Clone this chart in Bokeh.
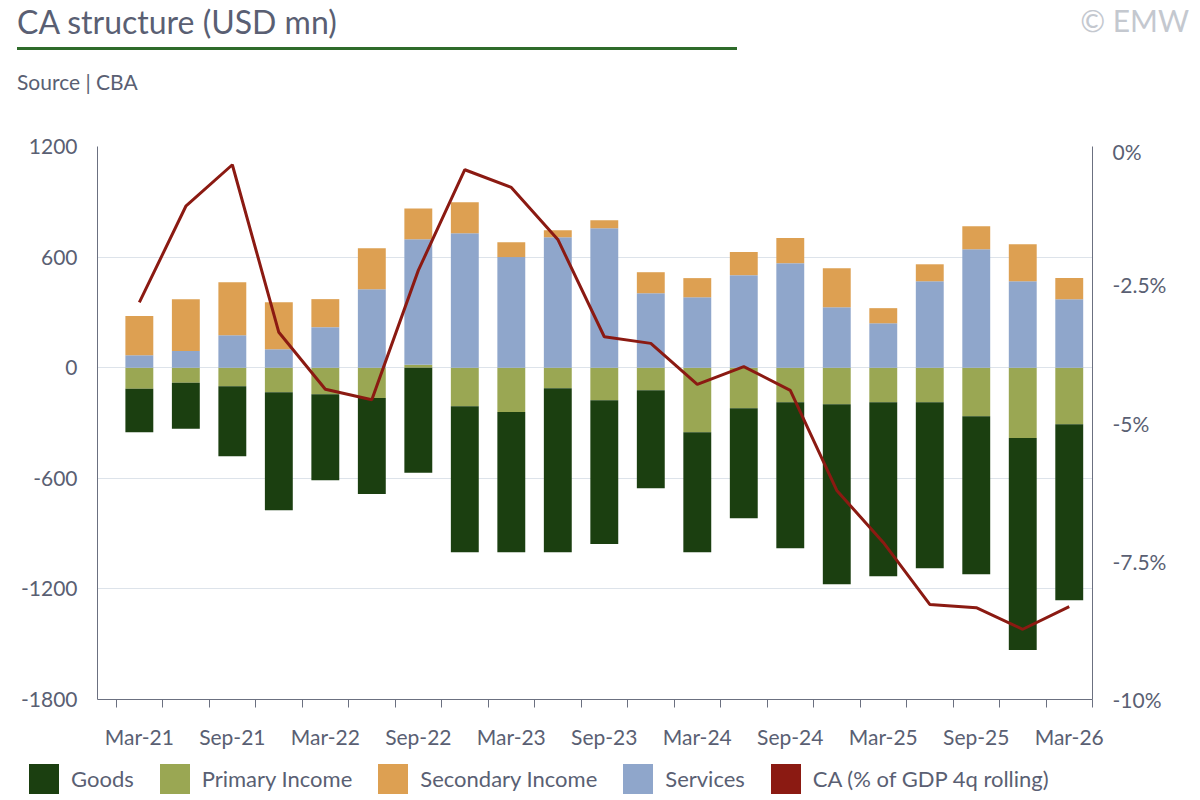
import numpy as np
from bokeh.plotting import figure
from bokeh.models import (Range1d, LinearAxis, FixedTicker, ColumnDataSource, Div)
from bokeh.layouts import column
from bokeh.embed import file_html
from bokeh.resources import INLINE

quarters = ["Mar-21","Jun-21","Sep-21","Dec-21","Mar-22","Jun-22","Sep-22","Dec-22","Mar-23","Jun-23",
            "Sep-23","Dec-23","Mar-24","Jun-24","Sep-24","Dec-24","Mar-25","Jun-25","Sep-25","Dec-25","Mar-26"]
goods = [-236,-250,-380,-640,-467,-520,-570,-792,-760,-890,-781,-532,-651,-597,-792,-977,-944,-901,-857,-1150,-955]
primary = [-114,-81,-100,-133,-144,-165,16,-209,-241,-111,-176,-122,-350,-220,-187,-198,-187,-187,-263,-382,-307]
secondary = [212,282,288,255,152,222,167,169,81,38,43,114,104,125,136,212,82,92,125,201,114]
services = [68,90,176,100,220,426,681,729,600,708,757,404,382,502,567,328,241,469,643,469,372]
ca_pct = [-2.82,-1.08,-0.33,-3.36,-4.39,-4.58,-2.24,-0.42,-0.74,-1.68,-3.44,-3.56,-4.30,-3.98,-4.41,
          -6.22,-7.16,-8.28,-8.34,-8.73,-8.32]
left_ticks = [-1800, -1200, -600, 0, 600, 1200]
right_ticks = [0, -2.5, -5, -7.5, -10]

FONT = "Lato"
TXT = "#5a5f73"
colors = {"Goods": "#1b3f10", "Primary Income": "#9aa753", "Secondary Income": "#dda052",
          "Services": "#8fa6cb", "CA (% of GDP 4q rolling)": "#8b1a12"}
series = {"Goods": goods, "Primary Income": primary, "Secondary Income": secondary, "Services": services}

x = np.arange(len(quarters))
p = figure(width=1184, height=620, output_backend="svg", toolbar_location=None,
           x_range=Range1d(-0.9, 20.5), y_range=Range1d(-1800, 1200),
           min_border_left=97, min_border_right=92, min_border_top=8, min_border_bottom=59)
p.extra_y_ranges = {"pct": Range1d(-10, 0)}

pos = np.zeros(len(x)); neg = np.zeros(len(x))
for name in ["Primary Income", "Goods", "Services", "Secondary Income"]:
    v = np.array(series[name], dtype=float)
    bottom = np.where(v >= 0, pos, neg)
    top = bottom + v
    pos = np.where(v >= 0, top, pos)
    neg = np.where(v < 0, top, neg)
    src = ColumnDataSource(dict(x=x, b=bottom, t=top))
    p.vbar(x="x", bottom="b", top="t", width=0.6, source=src, color=colors[name], line_color=None)
p.line(x, ca_pct, y_range_name="pct", line_color=colors["CA (% of GDP 4q rolling)"], line_width=3)

p.yaxis.ticker = FixedTicker(ticks=left_ticks)
p.yaxis.major_label_overrides = {t: str(t) for t in left_ticks}
rax = LinearAxis(y_range_name="pct", ticker=FixedTicker(ticks=right_ticks),
                 major_label_overrides={t: ("%g%%" % t) for t in right_ticks})
p.add_layout(rax, "right")
p.xaxis.ticker = FixedTicker(ticks=list(range(0, 21, 2)), minor_ticks=[i + 0.5 for i in range(-1, 21)])
p.xaxis.major_label_overrides = {i: quarters[i] for i in range(0, 21, 2)}
for ax in [p.xaxis[0], p.yaxis[0], rax]:
    ax.axis_line_color = "#6b7080"
    ax.major_label_text_font = FONT
    ax.major_label_text_font_size = "21px"
    ax.major_label_text_color = TXT
    ax.major_tick_line_color = "#6b7080"
    ax.major_tick_out = 8
    ax.major_tick_in = 0
    ax.minor_tick_line_color = None
p.yaxis.major_tick_line_color = None
rax.major_tick_line_color = None
p.yaxis.major_label_standoff = 12
rax.major_label_standoff = 12
p.xaxis.major_tick_line_color = None
p.xaxis.minor_tick_line_color = "#6b7080"
p.xaxis.minor_tick_out = 8
p.xaxis.minor_tick_in = 0
p.xaxis.major_label_standoff = 16
p.ygrid.grid_line_color = "#dde3ea"
p.xgrid.grid_line_color = None
p.outline_line_color = None

header = Div(width=1184, height=128, text=f"""
<div style="position:relative;width:1184px;height:128px;font-family:{FONT};color:{TXT};">
 <div style="position:absolute;left:12px;top:-6px;font-size:32px;">CA structure (USD mn)</div>
 <div style="position:absolute;left:12px;top:42px;width:720px;height:3px;background:#2e6b2a;"></div>
 <div style="position:absolute;left:12px;top:62px;font-size:21px;">Source | CBA</div>
 <div style="position:absolute;right:0px;top:-6px;font-size:30px;color:#c4c8cf;">© EMW</div>
</div>""")

items = "".join(
    f'<span style="display:inline-flex;align-items:center;margin-right:26px;">'
    f'<span style="display:inline-block;width:30px;height:30px;background:{c};margin-right:12px;"></span>{n}</span>'
    for n, c in colors.items())
footer = Div(width=1184, height=40, text=f"""
<div style="width:1184px;font-family:{FONT};color:{TXT};font-size:22px;white-space:nowrap;padding-left:24px;">{items}</div>""")

open("out.html", "w").write(file_html(column(header, p, footer, spacing=0), INLINE))
